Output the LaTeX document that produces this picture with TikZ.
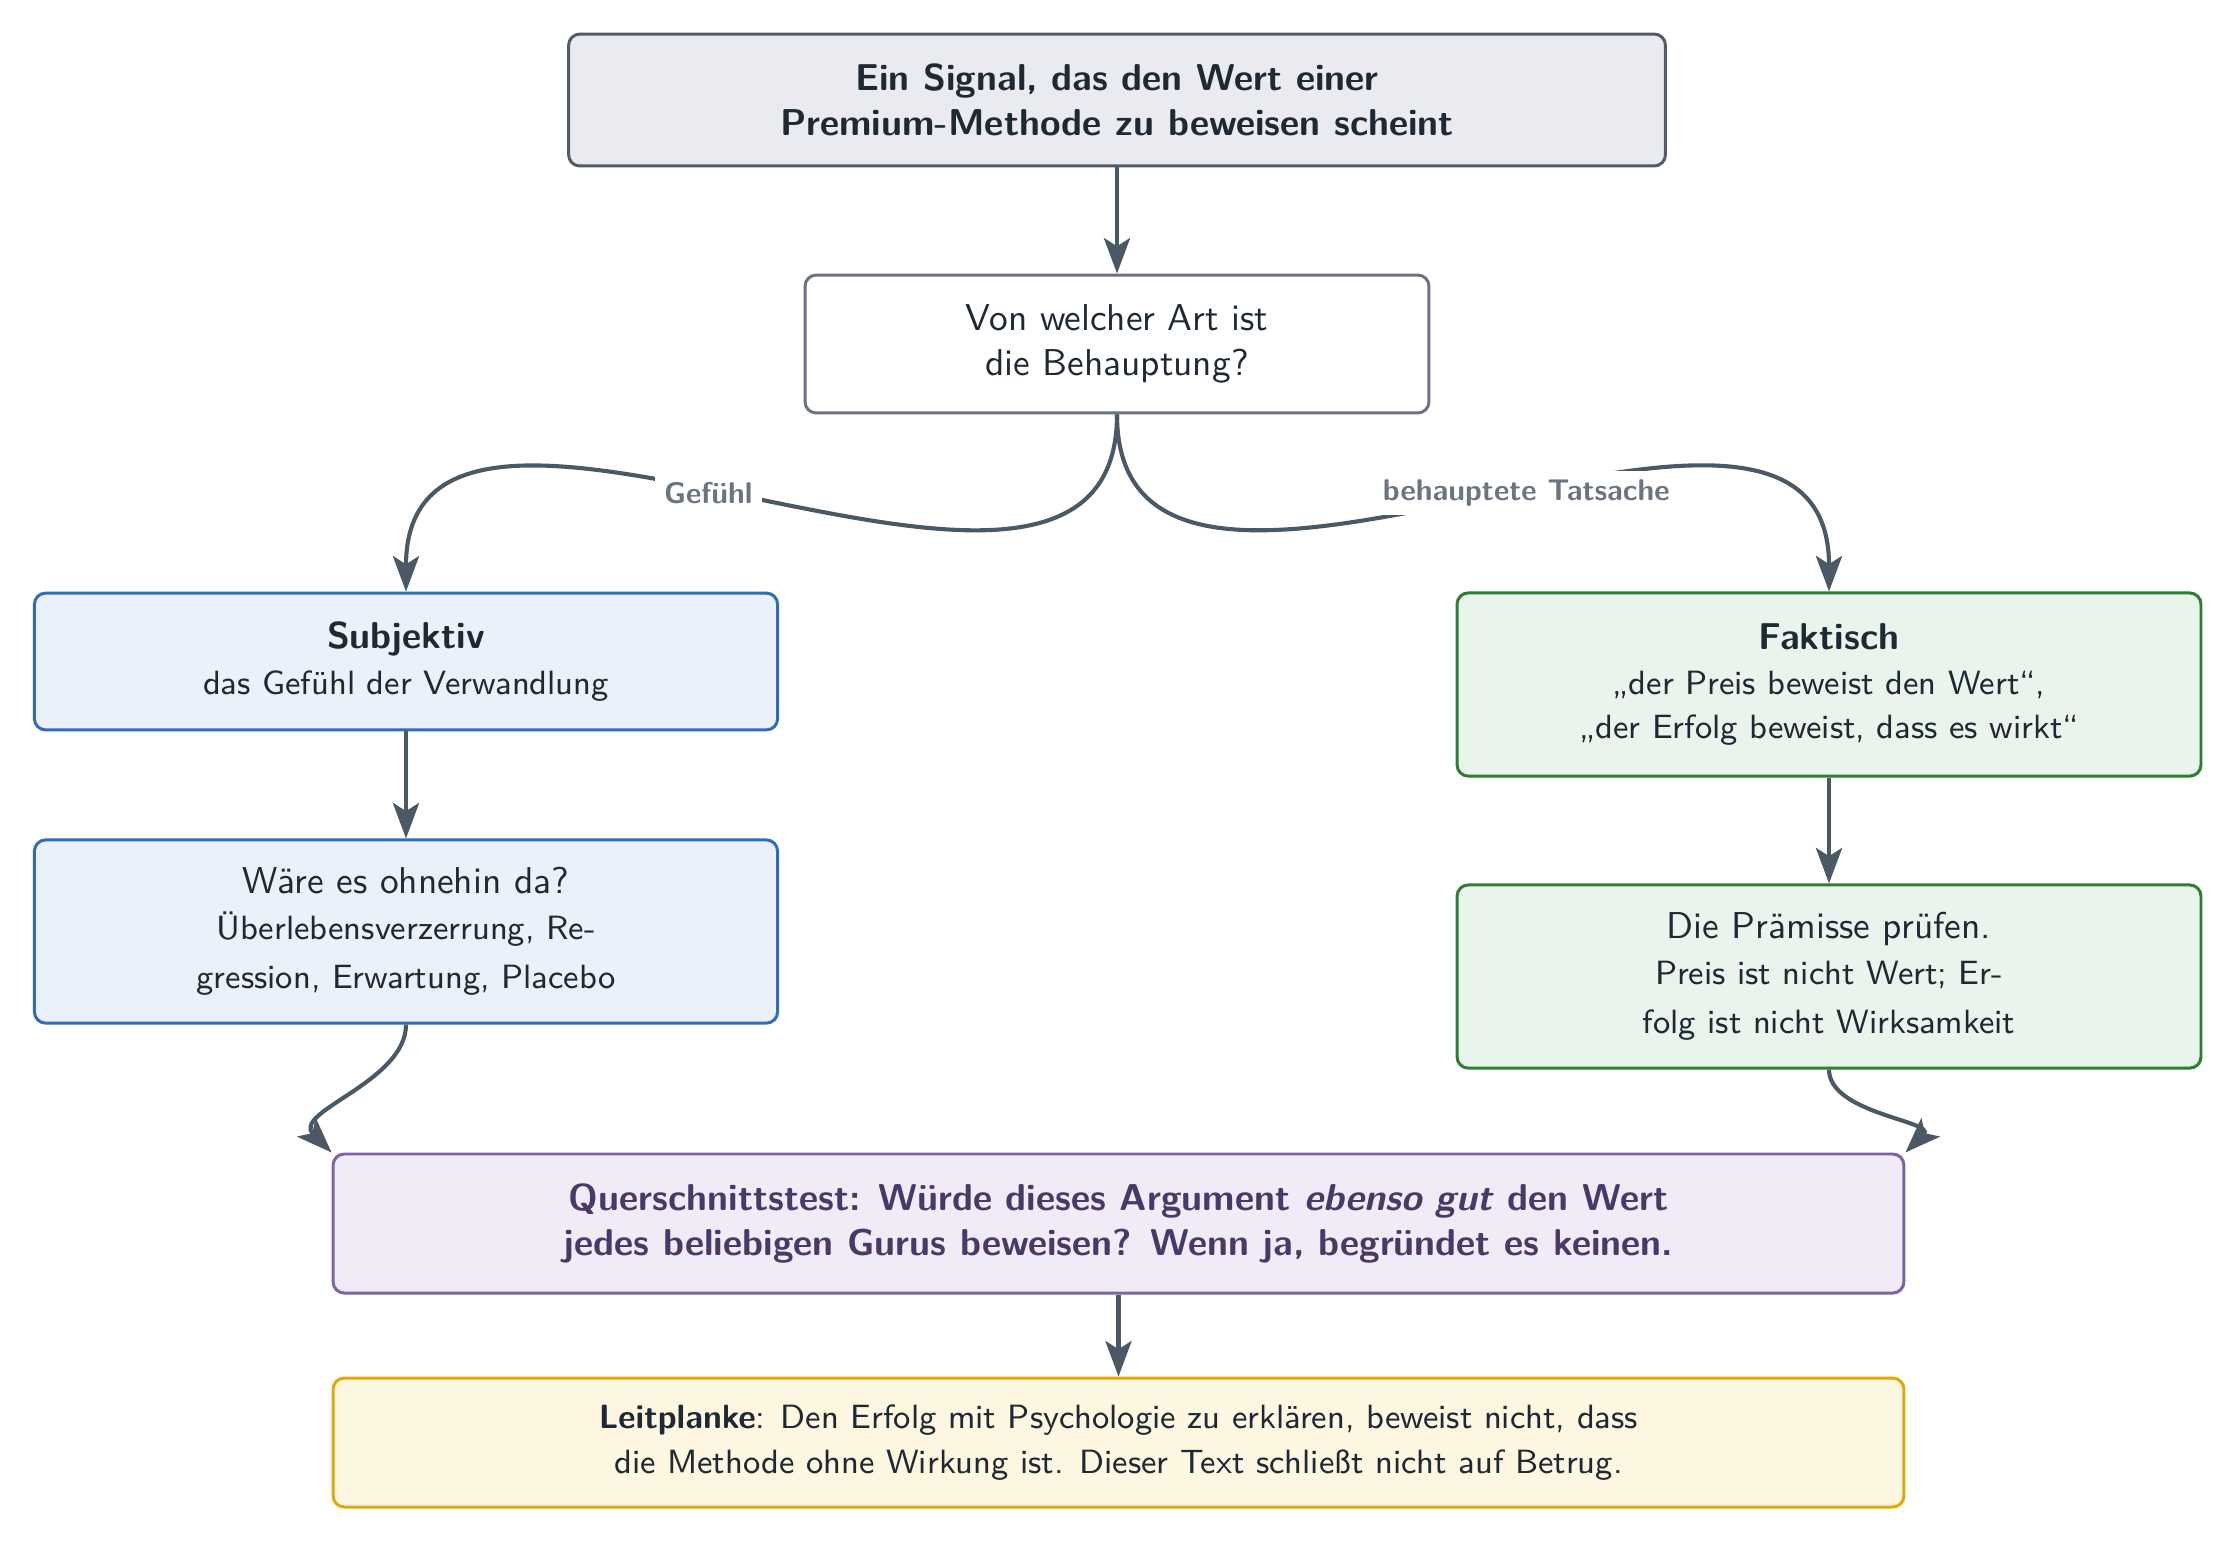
\documentclass[tikz,border=0pt]{standalone}
\usepackage{fontspec}
\usetikzlibrary{arrows.meta}
\renewcommand\familydefault{\sfdefault}
\definecolor{txt}{HTML}{1F2933}
\definecolor{arrc}{HTML}{4B5866}
\definecolor{lblc}{HTML}{6B7480}
\definecolor{topfill}{HTML}{E9EBF0}
\definecolor{topdraw}{HTML}{525B67}
\definecolor{qdraw}{HTML}{6B7280}
\definecolor{bluefill}{HTML}{EAF1FB}
\definecolor{bluedraw}{HTML}{2F6DB5}
\definecolor{greenfill}{HTML}{E9F4EC}
\definecolor{greendraw}{HTML}{2E7D32}
\definecolor{purfill}{HTML}{F1EBF7}
\definecolor{purdraw}{HTML}{7D62A8}
\definecolor{purtxt}{HTML}{463A66}
\definecolor{ylwfill}{HTML}{FDF6E0}
\definecolor{ylwdraw}{HTML}{E0A90A}
\tikzset{
  box/.style={draw, rounded corners=3pt, line width=0.8pt, align=center,
    inner sep=0pt, text=txt, font=\sffamily},
  arr/.style={draw=arrc, line width=1.1pt,
    -{Stealth[length=9.5pt,width=7pt,inset=2.2pt]}},
  lbl/.style={fill=white, font=\sffamily\footnotesize\bfseries, text=lblc, inner sep=2.4pt},
}
\begin{document}
\begin{tikzpicture}[x=0.2675pt,y=0.2675pt]
\useasboundingbox (0,0) rectangle (2235,-1542);
\node[box, fill=topfill, draw=topdraw, minimum width=293.4pt, minimum height=35.3pt] (top) at (1117,-100)
  {\bfseries Ein Signal, das den Wert einer\\\bfseries Premium-Methode zu beweisen scheint};
\node[box, fill=white, draw=qdraw, minimum width=166.9pt, minimum height=36.9pt] (q) at (1117,-344)
  {Von welcher Art ist\\die Behauptung?};
\node[box, fill=bluefill, draw=bluedraw, minimum width=198.8pt, minimum height=36.6pt] (subj) at (406,-661.5)
  {\textbf{Subjektiv}\\[0.4pt]\small das Gefühl der Verwandlung};
\node[box, fill=bluefill, draw=bluedraw, minimum width=198.8pt, minimum height=49pt] (waere) at (406,-931.5)
  {Wäre es ohnehin da?\\[0.3pt]\small Überlebensverzerrung, Re-\\[1.2pt]\small gression, Erwartung, Placebo};
\node[box, fill=greenfill, draw=greendraw, minimum width=199pt, minimum height=49pt] (fakt) at (1829,-684.5)
  {\textbf{Faktisch}\\\small „der Preis beweist den Wert“,\\\small „der Erfolg beweist, dass es wirkt“};
\node[box, fill=greenfill, draw=greendraw, minimum width=199pt, minimum height=49pt] (praem) at (1829,-976.5)
  {Die Prämisse prüfen.\\[0.3pt]\small Preis ist nicht Wert; Er-\\[1.2pt]\small folg ist nicht Wirksamkeit};
\node[box, fill=purfill, draw=purdraw, text=purtxt, minimum width=420.2pt, minimum height=37.2pt] (quer) at (1118.5,-1223.5)
  {\bfseries Querschnittstest: Würde dieses Argument \textit{ebenso gut} den Wert\\\bfseries jedes beliebigen Gurus beweisen? Wenn ja, begründet es keinen.};
\node[box, fill=ylwfill, draw=ylwdraw, minimum width=420.2pt, minimum height=34.5pt] (leit) at (1118.5,-1442.5)
  {\small\textbf{Leitplanke}: Den Erfolg mit Psychologie zu erklären, beweist nicht, dass\\\small die Methode ohne Wirkung ist. Dieser Text schließt nicht auf Betrug.};
\draw[arr] (top.south) -- (q.north);
\draw[arr] (q.south) .. controls +(0,-310) and +(0,310) .. (subj.north)
  node[lbl, pos=0.55] {Gefühl};
\draw[arr] (q.south) .. controls +(0,-310) and +(0,310) .. (fakt.north)
  node[lbl, pos=0.55] {behauptete Tatsache};
\draw[arr] (subj.south) -- (waere.north);
\draw[arr] (fakt.south) -- (praem.north);
\draw[arr] (waere.south) to[out=-90, in=135] (quer.north west);
\draw[arr] (praem.south) to[out=-90, in=45] (quer.north east);
\draw[arr] (quer.south) -- (leit.north);
\end{tikzpicture}
\end{document}
